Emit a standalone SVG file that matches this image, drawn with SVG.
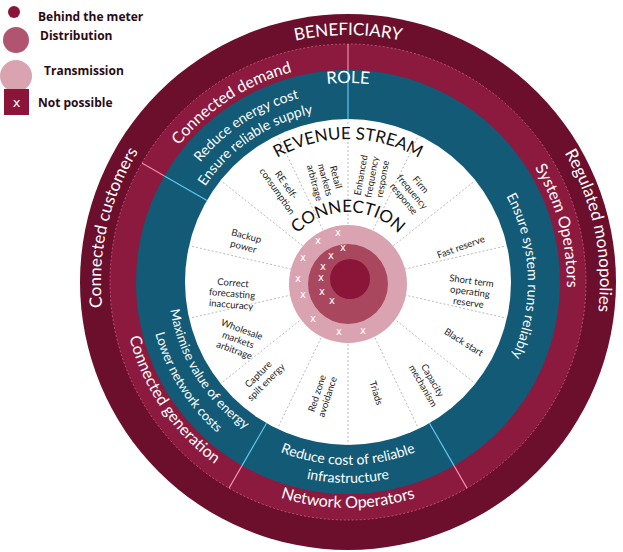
<svg xmlns="http://www.w3.org/2000/svg" width="623" height="552" viewBox="0 0 623 552">
<style>
.band{font-family:Lato,"Open Sans",sans-serif;fill:#fff;font-size:16px}
.tb{font-family:Lato,"Open Sans",sans-serif;fill:#fff;font-size:14px}
.hd{font-family:Lato,"Open Sans",sans-serif;fill:#111;font-size:17px}
.lb{font-family:Lato,"Open Sans",sans-serif;fill:#222;font-size:9.5px;text-anchor:middle}
.lg{font-family:"Open Sans",sans-serif;fill:#2a0a14;font-size:12px;font-weight:bold}
.x{font-family:"DejaVu Sans",sans-serif;fill:#fff;font-size:10px;text-anchor:middle}
.sp{stroke:#bbb;stroke-width:1;stroke-dasharray:2,2}
</style>
<defs>
<path id="pBen" d="M101,282 A247,247 0 0 1 595,282"/>
<path id="pRole" d="M149,282 A199,199 0 0 1 547,282"/>
<path id="pRev" d="M205,282 A143,143 0 0 1 491,282"/>
<path id="pCon" d="M278,282 A70,70 0 0 1 418,282"/>
<path id="pCd" d="M163.5,401.8 A220,220 0 0 1 532.5,162.2"/>
<path id="pRe" d="M188.6,385.5 A190,190 0 0 1 507.4,178.5"/>
<path id="pErs" d="M205.4,378.2 A172,172 0 0 1 490.6,185.8"/>
<path id="pCc" d="M292.4,522.7 A247,247 0 0 1 403.6,41.3"/>
<path id="pRm" d="M295.6,35.5 A252,252 0 0 1 400.4,528.5"/>
<path id="pSo" d="M290.5,67.6 A222,222 0 0 1 405.5,496.4"/>
<path id="pEsr" d="M341.7,102.1 A180,180 0 0 1 354.3,461.9"/>
<path id="pCg" d="M220.5,93 A228,228 0 0 0 475.5,471"/>
<path id="pMv" d="M252.1,128.5 A181,181 0 0 0 443.9,435.5"/>
<path id="pLn" d="M240.4,109.9 A203,203 0 0 0 455.6,454.1"/>
<path id="pNo" d="M122,282 A226,226 0 0 0 574,282"/>
<path id="pRc" d="M165,282 A183,183 0 0 0 531,282"/>
<path id="pIn" d="M147,282 A201,201 0 0 0 549,282"/>
</defs>

<g id="legend">
<circle cx="14" cy="12" r="6" fill="#8a1538"/>
<text class="lg" x="38" y="21">Behind the meter</text>
<circle cx="16" cy="40" r="13" fill="#b0546f"/>
<text class="lg" x="40" y="40">Distribution</text>
<circle cx="16" cy="76" r="16" fill="#d9a3b2"/>
<text class="lg" x="44" y="75">Transmission</text>
<rect x="4" y="89" width="25" height="26" fill="#8a1538"/>
<text class="x" x="16.5" y="107" style="font-size:13px">x</text>
<text class="lg" x="38" y="107">Not possible</text>
</g>

<g id="rings">
<circle cx="348" cy="282" r="268" fill="#6b0f2c"/>
<circle cx="348" cy="282" r="238" fill="#8c1a3f"/>
<circle cx="348" cy="282" r="238" fill="none" stroke="#e07a9a" stroke-width="0.6" stroke-dasharray="2,2"/>
<circle cx="348" cy="282" r="212" fill="#135a76"/>
<circle cx="348" cy="282" r="163" fill="#fff"/>
</g>

<g id="connectors">
<g stroke="#f08aaa" stroke-width="1.2">
<line x1="348" y1="44" x2="348" y2="70"/>
<line x1="141.9" y1="163" x2="164.4" y2="176"/>
<line x1="229" y1="488.1" x2="242" y2="465.6"/>
<line x1="467" y1="488.1" x2="454" y2="465.6"/>
</g>
<g stroke="#5ec8f0" stroke-width="1.2">
<line x1="348" y1="70" x2="348" y2="119"/>
<line x1="164.4" y1="176" x2="207" y2="200.5"/>
<line x1="242" y1="465.6" x2="266.5" y2="423.2"/>
<line x1="454" y1="465.6" x2="429.5" y2="423.2"/>
</g>
<g class="sp">
<line x1="348" y1="224" x2="348" y2="119"/>
<line x1="373.2" y1="229.7" x2="418.7" y2="135.1"/>
<line x1="393.3" y1="245.8" x2="475.4" y2="180.4"/>
<line x1="404.5" y1="269.1" x2="506.9" y2="245.7"/>
<line x1="404.5" y1="294.9" x2="506.9" y2="318.3"/>
<line x1="393.3" y1="318.2" x2="475.4" y2="383.6"/>
<line x1="373.2" y1="334.3" x2="418.7" y2="428.9"/>
<line x1="348" y1="340" x2="348" y2="445"/>
<line x1="322.8" y1="334.3" x2="277.3" y2="428.9"/>
<line x1="302.7" y1="318.2" x2="220.6" y2="383.6"/>
<line x1="291.5" y1="294.9" x2="189.1" y2="318.3"/>
<line x1="291.5" y1="269.1" x2="189.1" y2="245.7"/>
<line x1="302.7" y1="245.8" x2="220.6" y2="180.4"/>
<line x1="322.8" y1="229.7" x2="277.3" y2="135.1"/>
</g>
</g>

<g id="center">
<circle cx="348" cy="284" r="59" fill="#d9a3b2"/>
<circle cx="348" cy="284" r="40" fill="#a9475f"/>
<circle cx="350" cy="279" r="20" fill="#8a1538"/>
<g class="x">
<text x="338" y="236">x</text><text x="318" y="244">x</text><text x="343" y="251">x</text>
<text x="331" y="259">x</text><text x="303" y="261">x</text><text x="323" y="270">x</text>
<text x="298" y="282">x</text><text x="321" y="281">x</text><text x="322" y="295">x</text>
<text x="303" y="298">x</text><text x="332" y="304">x</text><text x="313" y="322">x</text>
<text x="339" y="335">x</text><text x="363" y="334">x</text>
</g>
</g>

<g id="bandText">
<text class="band" style="font-size:17px"><textPath href="#pBen" startOffset="50%" text-anchor="middle">BENEFICIARY</textPath></text>
<text class="band" style="font-size:17px"><textPath href="#pRole" startOffset="50%" text-anchor="middle">ROLE</textPath></text>
<text class="band"><textPath href="#pCd" startOffset="50%" text-anchor="middle">Connected demand</textPath></text>
<text class="tb"><textPath href="#pRe" startOffset="50%" text-anchor="middle">Reduce energy cost</textPath></text>
<text class="tb"><textPath href="#pErs" startOffset="50%" text-anchor="middle">Ensure reliable supply</textPath></text>
<text class="band" style="font-size:17px"><textPath href="#pCc" startOffset="50%" text-anchor="middle">Connected customers</textPath></text>
<text class="band" style="font-size:17px"><textPath href="#pRm" startOffset="50%" text-anchor="middle">Regulated monopolies</textPath></text>
<text class="band"><textPath href="#pSo" startOffset="50%" text-anchor="middle">System Operators</textPath></text>
<text class="tb"><textPath href="#pEsr" startOffset="50%" text-anchor="middle">Ensure system runs reliably</textPath></text>
<text class="band"><textPath href="#pCg" startOffset="50%" text-anchor="middle">Connected generation</textPath></text>
<text class="tb" style="font-size:13px"><textPath href="#pMv" startOffset="50%" text-anchor="middle">Maximise value of energy</textPath></text>
<text class="tb" style="font-size:13px"><textPath href="#pLn" startOffset="50%" text-anchor="middle">Lower network costs</textPath></text>
<text class="band"><textPath href="#pNo" startOffset="50%" text-anchor="middle">Network Operators</textPath></text>
<text class="tb"><textPath href="#pRc" startOffset="50%" text-anchor="middle">Reduce cost of reliable</textPath></text>
<text class="tb"><textPath href="#pIn" startOffset="50%" text-anchor="middle">infrastructure</textPath></text>
<text class="hd"><textPath href="#pRev" startOffset="50%" text-anchor="middle">REVENUE STREAM</textPath></text>
<text class="hd"><textPath href="#pCon" startOffset="50%" text-anchor="middle">CONNECTION</textPath></text>
</g>

<g id="revenue">
<text class="lb" transform="translate(372,177) rotate(-80)"><tspan x="0" dy="-8">Enhanced</tspan><tspan x="0" dy="11">frequency</tspan><tspan x="0" dy="11">response</tspan></text>
<text class="lb" transform="translate(325,180) rotate(75)"><tspan x="0" dy="-8">Retail</tspan><tspan x="0" dy="11">markets</tspan><tspan x="0" dy="11">arbitrage</tspan></text>
<text class="lb" transform="translate(282,188) rotate(55)"><tspan x="0" dy="-2">RE self-</tspan><tspan x="0" dy="11">consumption</tspan></text>
<text class="lb" transform="translate(412,192) rotate(50)"><tspan x="0" dy="-8">Firm</tspan><tspan x="0" dy="11">frequency</tspan><tspan x="0" dy="11">response</tspan></text>
<text class="lb" transform="translate(462,250) rotate(-20)">Fast reserve</text>
<text class="lb" transform="translate(470,292) rotate(8)"><tspan x="0" dy="-8">Short term</tspan><tspan x="0" dy="11">operating</tspan><tspan x="0" dy="11">reserve</tspan></text>
<text class="lb" transform="translate(462,345) rotate(32)">Black start</text>
<text class="lb" transform="translate(428,383) rotate(60)"><tspan x="0" dy="-2">Capacity</tspan><tspan x="0" dy="11">mechanism</tspan></text>
<text class="lb" transform="translate(373,394) rotate(72)">Triads</text>
<text class="lb" transform="translate(322,395) rotate(-72)"><tspan x="0" dy="-2">Red zone</tspan><tspan x="0" dy="11">avoidance</tspan></text>
<text class="lb" transform="translate(262,378) rotate(-45)"><tspan x="0" dy="-2">Capture</tspan><tspan x="0" dy="11">spilt energy</tspan></text>
<text class="lb" transform="translate(238,340) rotate(20)"><tspan x="0" dy="-8">Wholesale</tspan><tspan x="0" dy="11">markets</tspan><tspan x="0" dy="11">arbitrage</tspan></text>
<text class="lb" transform="translate(232,294) rotate(5)"><tspan x="0" dy="-8">Correct</tspan><tspan x="0" dy="11">forecasting</tspan><tspan x="0" dy="11">inaccuracy</tspan></text>
<text class="lb" transform="translate(245,241) rotate(15)"><tspan x="0" dy="-2">Backup</tspan><tspan x="0" dy="11">power</tspan></text>
</g>
</svg>
